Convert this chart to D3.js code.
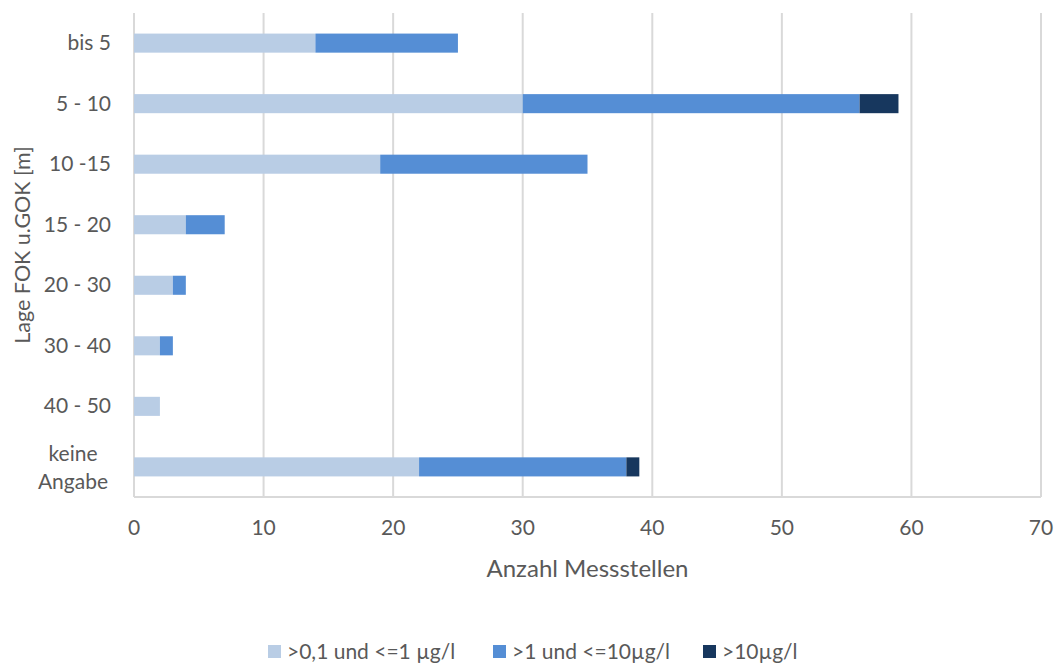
<!DOCTYPE html>
<html><head><meta charset="utf-8">
<script src="https://cdn.jsdelivr.net/npm/d3@7"></script>
<style>body{margin:0;background:#fff;} text{font-family:Lato,"Open Sans",sans-serif;fill:#595959;}</style>
</head><body>
<svg id="c" width="1057" height="663"></svg>
<script>
const categories = ["bis 5","5 - 10","10 -15","15 - 20","20 - 30","30 - 40","40 - 50","keine Angabe"];
const seriesNames = [">0,1 und <=1 µg/l", ">1 und <=10µg/l", ">10µg/l"];
const low = [14,30,19,4,3,2,2,22];
const mid = [11,26,16,3,1,1,0,16];
const high = [0,3,0,0,0,0,0,1];
const xTicks = [0,10,20,30,40,50,60,70];
const colors = ["#B9CDE5","#558ED5","#17375E"];

(function(){
const svg = d3.select("#c");
const pL = 134, pR = 1041, pT = 13, pB = 497;
const x = d3.scaleLinear().domain([0,70]).range([pL,pR]);
const y = d3.scaleBand().domain(categories).range([pT,pB]).paddingInner(0.685).paddingOuter(0.34);

svg.append("g").selectAll("line").data(xTicks).join("line")
  .attr("x1",d=>x(d)).attr("x2",d=>x(d)).attr("y1",pT).attr("y2",pB)
  .attr("stroke","#D9D9D9").attr("stroke-width",2);
svg.append("line").attr("x1",pL).attr("x2",pR).attr("y1",pB).attr("y2",pB)
  .attr("stroke","#D9D9D9").attr("stroke-width",2);

const data = categories.map((c,i)=>({cat:c, s0:low[i], s1:mid[i], s2:high[i]}));
const stack = d3.stack().keys(["s0","s1","s2"])(data);
svg.append("g").selectAll("g").data(stack).join("g").attr("fill",(d,i)=>colors[i])
  .selectAll("rect").data(d=>d).join("rect")
  .attr("x",d=>x(d[0])).attr("width",d=>x(d[1])-x(d[0]))
  .attr("y",d=>y(d.data.cat)).attr("height",y.bandwidth());

svg.append("g").selectAll("text").data(xTicks).join("text")
  .attr("x",d=>x(d)).attr("y",535).attr("text-anchor","middle").attr("font-size",21).text(d=>d);

categories.forEach(c=>{
  const cy = y(c)+y.bandwidth()/2;
  if(c==="keine Angabe"){
    svg.append("text").attr("x",73).attr("y",cy-6).attr("text-anchor","middle").attr("font-size",21).text("keine");
    svg.append("text").attr("x",73).attr("y",cy+22).attr("text-anchor","middle").attr("font-size",21).text("Angabe");
  } else {
    svg.append("text").attr("x",111).attr("y",cy+7).attr("text-anchor","end").attr("font-size",21).text(c);
  }
});

svg.append("text").attr("x",(pL+pR)/2).attr("y",577).attr("text-anchor","middle").attr("font-size",24).text("Anzahl Messstellen");
svg.append("text").attr("transform","translate(30,245) rotate(-90)").attr("text-anchor","middle").attr("font-size",21.5).text("Lage FOK u.GOK [m]");

const legX = [268,493,703];
seriesNames.forEach((n,i)=>{
  svg.append("rect").attr("x",legX[i]).attr("y",645).attr("width",13).attr("height",13).attr("fill",colors[i]);
  svg.append("text").attr("x",legX[i]+19).attr("y",659).attr("font-size",21).text(n);
});
})();
</script>
</body></html>
